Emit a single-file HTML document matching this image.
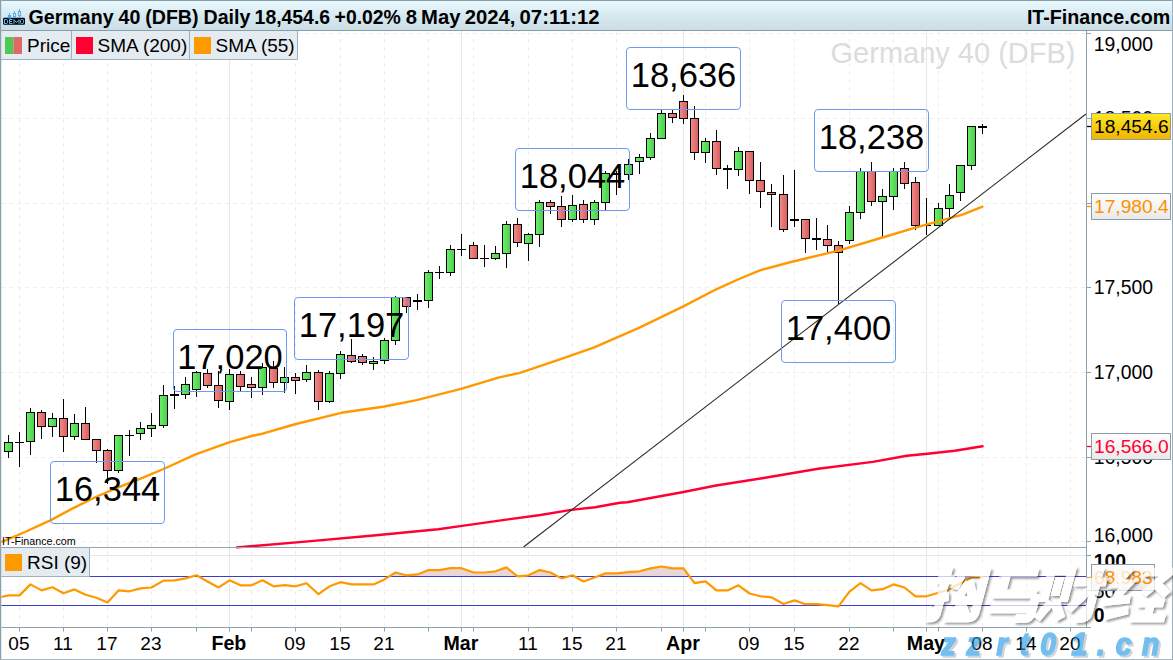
<!DOCTYPE html><html><head><meta charset="utf-8"><title>Germany 40 (DFB)</title>
<style>html,body{margin:0;padding:0;background:#fff}body{width:1173px;height:660px;overflow:hidden;font-family:"Liberation Sans",sans-serif}svg{display:block}text{font-family:"Liberation Sans",sans-serif}</style></head><body>
<svg width="1173" height="660" viewBox="0 0 1173 660">
<defs>
<linearGradient id="hd" x1="0" y1="0" x2="0" y2="1"><stop offset="0" stop-color="#e9fbff"/><stop offset="0.5" stop-color="#d8eaf1"/><stop offset="1" stop-color="#cbdde5"/></linearGradient>
<linearGradient id="gg" x1="0" y1="0" x2="1" y2="0"><stop offset="0" stop-color="#6cf26c"/><stop offset="1" stop-color="#4ccc4c"/></linearGradient>
<linearGradient id="rg" x1="0" y1="0" x2="1" y2="0"><stop offset="0" stop-color="#f28c8c"/><stop offset="1" stop-color="#d95c5c"/></linearGradient>
<linearGradient id="yl" x1="0" y1="0" x2="0" y2="1"><stop offset="0" stop-color="#ffe822"/><stop offset="1" stop-color="#f0b400"/></linearGradient>
<linearGradient id="wl" x1="0" y1="0" x2="0" y2="1"><stop offset="0" stop-color="#ffffff"/><stop offset="1" stop-color="#e9e9e9"/></linearGradient>
<clipPath id="rsiclip"><rect x="0" y="548" width="1086" height="28.3"/></clipPath>
</defs>
<rect x="0" y="0" width="1173" height="660" fill="#ffffff"/>
<line x1="1" x2="1086" y1="33.5" y2="33.5" stroke="#eeeeee" stroke-dasharray="4 4"/>
<line x1="1" x2="1086" y1="118.5" y2="118.5" stroke="#eeeeee" stroke-dasharray="4 4"/>
<line x1="1" x2="1086" y1="203.5" y2="203.5" stroke="#eeeeee" stroke-dasharray="4 4"/>
<line x1="1" x2="1086" y1="287.5" y2="287.5" stroke="#eeeeee" stroke-dasharray="4 4"/>
<line x1="1" x2="1086" y1="372.5" y2="372.5" stroke="#eeeeee" stroke-dasharray="4 4"/>
<line x1="1" x2="1086" y1="457.5" y2="457.5" stroke="#eeeeee" stroke-dasharray="4 4"/>
<line x1="1" x2="1086" y1="541.5" y2="541.5" stroke="#eeeeee" stroke-dasharray="4 4"/>
<line x1="1" x2="1086" y1="555.5" y2="555.5" stroke="#e7e7e7"/>
<line x1="1" x2="1086" y1="590.5" y2="590.5" stroke="#eeeeee" stroke-dasharray="4 4"/>
<line x1="19.5" x2="19.5" y1="31" y2="628" stroke="#eeeeee" stroke-dasharray="4 4"/>
<line x1="63.5" x2="63.5" y1="31" y2="628" stroke="#eeeeee" stroke-dasharray="4 4"/>
<line x1="107.5" x2="107.5" y1="31" y2="628" stroke="#eeeeee" stroke-dasharray="4 4"/>
<line x1="151.5" x2="151.5" y1="31" y2="628" stroke="#eeeeee" stroke-dasharray="4 4"/>
<line x1="196.5" x2="196.5" y1="31" y2="628" stroke="#eeeeee" stroke-dasharray="4 4"/>
<line x1="251.5" x2="251.5" y1="31" y2="628" stroke="#eeeeee" stroke-dasharray="4 4"/>
<line x1="295.5" x2="295.5" y1="31" y2="628" stroke="#eeeeee" stroke-dasharray="4 4"/>
<line x1="340.5" x2="340.5" y1="31" y2="628" stroke="#eeeeee" stroke-dasharray="4 4"/>
<line x1="384.5" x2="384.5" y1="31" y2="628" stroke="#eeeeee" stroke-dasharray="4 4"/>
<line x1="428.5" x2="428.5" y1="31" y2="628" stroke="#eeeeee" stroke-dasharray="4 4"/>
<line x1="473.5" x2="473.5" y1="31" y2="628" stroke="#eeeeee" stroke-dasharray="4 4"/>
<line x1="528.5" x2="528.5" y1="31" y2="628" stroke="#eeeeee" stroke-dasharray="4 4"/>
<line x1="572.5" x2="572.5" y1="31" y2="628" stroke="#eeeeee" stroke-dasharray="4 4"/>
<line x1="616.5" x2="616.5" y1="31" y2="628" stroke="#eeeeee" stroke-dasharray="4 4"/>
<line x1="661.5" x2="661.5" y1="31" y2="628" stroke="#eeeeee" stroke-dasharray="4 4"/>
<line x1="705.5" x2="705.5" y1="31" y2="628" stroke="#eeeeee" stroke-dasharray="4 4"/>
<line x1="749.5" x2="749.5" y1="31" y2="628" stroke="#eeeeee" stroke-dasharray="4 4"/>
<line x1="794.5" x2="794.5" y1="31" y2="628" stroke="#eeeeee" stroke-dasharray="4 4"/>
<line x1="849.5" x2="849.5" y1="31" y2="628" stroke="#eeeeee" stroke-dasharray="4 4"/>
<line x1="893.5" x2="893.5" y1="31" y2="628" stroke="#eeeeee" stroke-dasharray="4 4"/>
<line x1="938.5" x2="938.5" y1="31" y2="628" stroke="#eeeeee" stroke-dasharray="4 4"/>
<line x1="982.5" x2="982.5" y1="31" y2="628" stroke="#eeeeee" stroke-dasharray="4 4"/>
<line x1="1026.5" x2="1026.5" y1="31" y2="628" stroke="#eeeeee" stroke-dasharray="4 4"/>
<line x1="1070.5" x2="1070.5" y1="31" y2="628" stroke="#eeeeee" stroke-dasharray="4 4"/>
<line x1="229.5" x2="229.5" y1="31" y2="628" stroke="#e7e7e7"/>
<line x1="461.5" x2="461.5" y1="31" y2="628" stroke="#e7e7e7"/>
<line x1="683.5" x2="683.5" y1="31" y2="628" stroke="#e7e7e7"/>
<line x1="926.5" x2="926.5" y1="31" y2="628" stroke="#e7e7e7"/>
<text x="1075.5" y="63" text-anchor="end" font-size="29" fill="#dcdcdc">Germany 40 (DFB)</text>
<line x1="8.5" x2="8.5" y1="435" y2="458" stroke="#000"/>
<rect x="4.5" y="442.5" width="8" height="9.0" fill="url(#gg)" stroke="#000"/>
<line x1="19.5" x2="19.5" y1="432" y2="467" stroke="#000"/>
<line x1="15.0" x2="24.0" y1="442.5" y2="442.5" stroke="#000"/>
<line x1="30.5" x2="30.5" y1="408" y2="455" stroke="#000"/>
<rect x="26.5" y="412.5" width="8" height="29.0" fill="url(#gg)" stroke="#000"/>
<line x1="41.5" x2="41.5" y1="410" y2="439" stroke="#000"/>
<rect x="37.5" y="412.5" width="8" height="14.0" fill="url(#rg)" stroke="#000"/>
<line x1="52.5" x2="52.5" y1="413" y2="437" stroke="#000"/>
<rect x="48.5" y="418.5" width="8" height="8.0" fill="url(#gg)" stroke="#000"/>
<line x1="63.5" x2="63.5" y1="399" y2="452" stroke="#000"/>
<rect x="59.5" y="418.5" width="8" height="18.0" fill="url(#rg)" stroke="#000"/>
<line x1="74.5" x2="74.5" y1="414" y2="440" stroke="#000"/>
<rect x="70.5" y="423.5" width="8" height="13.0" fill="url(#gg)" stroke="#000"/>
<line x1="85.5" x2="85.5" y1="407" y2="440" stroke="#000"/>
<rect x="81.5" y="423.5" width="8" height="16.0" fill="url(#rg)" stroke="#000"/>
<line x1="96.5" x2="96.5" y1="439" y2="463" stroke="#000"/>
<rect x="92.5" y="439.5" width="8" height="11.0" fill="url(#rg)" stroke="#000"/>
<line x1="107.5" x2="107.5" y1="449" y2="484" stroke="#000"/>
<rect x="103.5" y="450.5" width="8" height="20.0" fill="url(#rg)" stroke="#000"/>
<line x1="118.5" x2="118.5" y1="435" y2="473" stroke="#000"/>
<rect x="114.5" y="435.5" width="8" height="35.0" fill="url(#gg)" stroke="#000"/>
<line x1="129.5" x2="129.5" y1="430" y2="456" stroke="#000"/>
<line x1="125.0" x2="134.0" y1="435.5" y2="435.5" stroke="#000"/>
<line x1="140.5" x2="140.5" y1="422" y2="440" stroke="#000"/>
<rect x="136.5" y="428.5" width="8" height="5.0" fill="url(#gg)" stroke="#000"/>
<line x1="151.5" x2="151.5" y1="413" y2="437" stroke="#000"/>
<rect x="147.5" y="425.5" width="8" height="3.0" fill="url(#gg)" stroke="#000"/>
<line x1="163.5" x2="163.5" y1="385" y2="428" stroke="#000"/>
<rect x="159.5" y="395.5" width="8" height="30.0" fill="url(#gg)" stroke="#000"/>
<line x1="174.5" x2="174.5" y1="386" y2="409" stroke="#000"/>
<rect x="170.0" y="394" width="9" height="2" fill="#000"/>
<line x1="185.5" x2="185.5" y1="377" y2="399" stroke="#000"/>
<rect x="181.5" y="384.5" width="8" height="10.0" fill="url(#gg)" stroke="#000"/>
<line x1="196.5" x2="196.5" y1="371" y2="397" stroke="#000"/>
<rect x="192.5" y="372.5" width="8" height="17.0" fill="url(#gg)" stroke="#000"/>
<line x1="207.5" x2="207.5" y1="369" y2="388" stroke="#000"/>
<rect x="203.5" y="373.5" width="8" height="12.0" fill="url(#rg)" stroke="#000"/>
<line x1="218.5" x2="218.5" y1="371" y2="408" stroke="#000"/>
<rect x="214.5" y="385.5" width="8" height="15.0" fill="url(#rg)" stroke="#000"/>
<line x1="229.5" x2="229.5" y1="369" y2="410" stroke="#000"/>
<rect x="225.5" y="374.5" width="8" height="27.0" fill="url(#gg)" stroke="#000"/>
<line x1="240.5" x2="240.5" y1="371" y2="391" stroke="#000"/>
<rect x="236.5" y="374.5" width="8" height="12.0" fill="url(#rg)" stroke="#000"/>
<line x1="251.5" x2="251.5" y1="377" y2="398" stroke="#000"/>
<rect x="247.5" y="384.5" width="8" height="3.0" fill="url(#rg)" stroke="#000"/>
<line x1="262.5" x2="262.5" y1="363" y2="395" stroke="#000"/>
<rect x="258.5" y="367.5" width="8" height="20.0" fill="url(#gg)" stroke="#000"/>
<line x1="273.5" x2="273.5" y1="361" y2="388" stroke="#000"/>
<rect x="269.5" y="368.5" width="8" height="14.0" fill="url(#rg)" stroke="#000"/>
<line x1="284.5" x2="284.5" y1="367" y2="393" stroke="#000"/>
<rect x="280.5" y="377.5" width="8" height="5.0" fill="url(#gg)" stroke="#000"/>
<line x1="295.5" x2="295.5" y1="373" y2="394" stroke="#000"/>
<rect x="291.5" y="377.5" width="8" height="3.0" fill="url(#rg)" stroke="#000"/>
<line x1="306.5" x2="306.5" y1="365" y2="382" stroke="#000"/>
<rect x="302.5" y="372.5" width="8" height="7.0" fill="url(#gg)" stroke="#000"/>
<line x1="318.5" x2="318.5" y1="370" y2="410" stroke="#000"/>
<rect x="314.5" y="372.5" width="8" height="29.0" fill="url(#rg)" stroke="#000"/>
<line x1="329.5" x2="329.5" y1="371" y2="403" stroke="#000"/>
<rect x="325.5" y="373.5" width="8" height="28.0" fill="url(#gg)" stroke="#000"/>
<line x1="340.5" x2="340.5" y1="351" y2="379" stroke="#000"/>
<rect x="336.5" y="354.5" width="8" height="19.0" fill="url(#gg)" stroke="#000"/>
<line x1="351.5" x2="351.5" y1="339" y2="363" stroke="#000"/>
<rect x="347.5" y="355.5" width="8" height="6.0" fill="url(#rg)" stroke="#000"/>
<line x1="362.5" x2="362.5" y1="354" y2="365" stroke="#000"/>
<rect x="358.5" y="356.5" width="8" height="6.0" fill="url(#rg)" stroke="#000"/>
<line x1="373.5" x2="373.5" y1="357" y2="370" stroke="#000"/>
<rect x="369.5" y="361.5" width="8" height="2.0" fill="url(#gg)" stroke="#000"/>
<line x1="384.5" x2="384.5" y1="338" y2="364" stroke="#000"/>
<rect x="380.5" y="340.5" width="8" height="20.0" fill="url(#gg)" stroke="#000"/>
<line x1="395.5" x2="395.5" y1="296" y2="345" stroke="#000"/>
<rect x="391.5" y="297.5" width="8" height="43.0" fill="url(#gg)" stroke="#000"/>
<line x1="406.5" x2="406.5" y1="298" y2="313" stroke="#000"/>
<rect x="402.5" y="297.5" width="8" height="9.0" fill="url(#rg)" stroke="#000"/>
<line x1="417.5" x2="417.5" y1="294" y2="310" stroke="#000"/>
<rect x="413.0" y="300" width="9" height="2" fill="#000"/>
<line x1="428.5" x2="428.5" y1="270" y2="308" stroke="#000"/>
<rect x="424.5" y="272.5" width="8" height="28.0" fill="url(#gg)" stroke="#000"/>
<line x1="439.5" x2="439.5" y1="266" y2="279" stroke="#000"/>
<line x1="435.0" x2="444.0" y1="272.5" y2="272.5" stroke="#000"/>
<line x1="450.5" x2="450.5" y1="245" y2="276" stroke="#000"/>
<rect x="446.5" y="249.5" width="8" height="23.0" fill="url(#gg)" stroke="#000"/>
<line x1="461.5" x2="461.5" y1="234" y2="256" stroke="#000"/>
<line x1="457.0" x2="466.0" y1="249.5" y2="249.5" stroke="#000"/>
<line x1="473.5" x2="473.5" y1="242" y2="258" stroke="#000"/>
<rect x="469.5" y="245.5" width="8" height="13.0" fill="url(#rg)" stroke="#000"/>
<line x1="484.5" x2="484.5" y1="245" y2="267" stroke="#000"/>
<line x1="480.0" x2="489.0" y1="258.5" y2="258.5" stroke="#000"/>
<line x1="495.5" x2="495.5" y1="246" y2="260" stroke="#000"/>
<rect x="491.5" y="253.5" width="8" height="5.0" fill="url(#gg)" stroke="#000"/>
<line x1="506.5" x2="506.5" y1="221" y2="268" stroke="#000"/>
<rect x="502.5" y="224.5" width="8" height="29.0" fill="url(#gg)" stroke="#000"/>
<line x1="517.5" x2="517.5" y1="218" y2="247" stroke="#000"/>
<rect x="513.5" y="224.5" width="8" height="18.0" fill="url(#rg)" stroke="#000"/>
<line x1="528.5" x2="528.5" y1="233" y2="261" stroke="#000"/>
<rect x="524.5" y="234.5" width="8" height="9.0" fill="url(#gg)" stroke="#000"/>
<line x1="539.5" x2="539.5" y1="200" y2="247" stroke="#000"/>
<rect x="535.5" y="202.5" width="8" height="32.0" fill="url(#gg)" stroke="#000"/>
<line x1="550.5" x2="550.5" y1="200" y2="214" stroke="#000"/>
<rect x="546.5" y="202.5" width="8" height="4.0" fill="url(#rg)" stroke="#000"/>
<line x1="561.5" x2="561.5" y1="196" y2="227" stroke="#000"/>
<rect x="557.5" y="206.5" width="8" height="13.0" fill="url(#rg)" stroke="#000"/>
<line x1="572.5" x2="572.5" y1="195" y2="222" stroke="#000"/>
<rect x="568.5" y="205.5" width="8" height="14.0" fill="url(#gg)" stroke="#000"/>
<line x1="583.5" x2="583.5" y1="200" y2="223" stroke="#000"/>
<rect x="579.5" y="204.5" width="8" height="15.0" fill="url(#rg)" stroke="#000"/>
<line x1="594.5" x2="594.5" y1="200" y2="225" stroke="#000"/>
<rect x="590.5" y="202.5" width="8" height="17.0" fill="url(#gg)" stroke="#000"/>
<line x1="605.5" x2="605.5" y1="171" y2="210" stroke="#000"/>
<rect x="601.5" y="173.5" width="8" height="29.0" fill="url(#gg)" stroke="#000"/>
<line x1="616.5" x2="616.5" y1="171" y2="195" stroke="#000"/>
<rect x="612.5" y="173.5" width="8" height="1.0" fill="url(#rg)" stroke="#000"/>
<line x1="628.5" x2="628.5" y1="159" y2="180" stroke="#000"/>
<rect x="624.5" y="164.5" width="8" height="10.0" fill="url(#gg)" stroke="#000"/>
<line x1="639.5" x2="639.5" y1="154" y2="174" stroke="#000"/>
<rect x="635.5" y="157.5" width="8" height="4.0" fill="url(#gg)" stroke="#000"/>
<line x1="650.5" x2="650.5" y1="133" y2="160" stroke="#000"/>
<rect x="646.5" y="138.5" width="8" height="19.0" fill="url(#gg)" stroke="#000"/>
<line x1="661.5" x2="661.5" y1="110" y2="139" stroke="#000"/>
<rect x="657.5" y="113.5" width="8" height="25.0" fill="url(#gg)" stroke="#000"/>
<line x1="672.5" x2="672.5" y1="110" y2="123" stroke="#000"/>
<rect x="668.5" y="113.5" width="8" height="4.0" fill="url(#rg)" stroke="#000"/>
<line x1="683.5" x2="683.5" y1="95" y2="124" stroke="#000"/>
<rect x="679.5" y="101.5" width="8" height="17.0" fill="url(#rg)" stroke="#000"/>
<line x1="694.5" x2="694.5" y1="106" y2="160" stroke="#000"/>
<rect x="690.5" y="118.5" width="8" height="34.0" fill="url(#rg)" stroke="#000"/>
<line x1="705.5" x2="705.5" y1="138" y2="163" stroke="#000"/>
<rect x="701.5" y="141.5" width="8" height="11.0" fill="url(#gg)" stroke="#000"/>
<line x1="716.5" x2="716.5" y1="130" y2="175" stroke="#000"/>
<rect x="712.5" y="141.5" width="8" height="27.0" fill="url(#rg)" stroke="#000"/>
<line x1="727.5" x2="727.5" y1="165" y2="189" stroke="#000"/>
<rect x="723.0" y="168" width="9" height="2" fill="#000"/>
<line x1="738.5" x2="738.5" y1="147" y2="176" stroke="#000"/>
<rect x="734.5" y="151.5" width="8" height="18.0" fill="url(#gg)" stroke="#000"/>
<line x1="749.5" x2="749.5" y1="151" y2="194" stroke="#000"/>
<rect x="745.5" y="151.5" width="8" height="29.0" fill="url(#rg)" stroke="#000"/>
<line x1="760.5" x2="760.5" y1="162" y2="208" stroke="#000"/>
<rect x="756.5" y="180.5" width="8" height="11.0" fill="url(#rg)" stroke="#000"/>
<line x1="771.5" x2="771.5" y1="184" y2="227" stroke="#000"/>
<rect x="767.5" y="192.5" width="8" height="2.0" fill="url(#rg)" stroke="#000"/>
<line x1="783.5" x2="783.5" y1="175" y2="232" stroke="#000"/>
<rect x="779.5" y="194.5" width="8" height="35.0" fill="url(#rg)" stroke="#000"/>
<line x1="794.5" x2="794.5" y1="170" y2="227" stroke="#000"/>
<rect x="790.0" y="219" width="9" height="2" fill="#000"/>
<line x1="805.5" x2="805.5" y1="219" y2="253" stroke="#000"/>
<rect x="801.5" y="219.5" width="8" height="19.0" fill="url(#rg)" stroke="#000"/>
<line x1="816.5" x2="816.5" y1="218" y2="250" stroke="#000"/>
<rect x="812.0" y="238" width="9" height="2" fill="#000"/>
<line x1="827.5" x2="827.5" y1="225" y2="252" stroke="#000"/>
<rect x="823.5" y="239.5" width="8" height="6.0" fill="url(#rg)" stroke="#000"/>
<line x1="838.5" x2="838.5" y1="241" y2="304" stroke="#000"/>
<rect x="834.5" y="245.5" width="8" height="7.0" fill="url(#rg)" stroke="#000"/>
<line x1="849.5" x2="849.5" y1="206" y2="244" stroke="#000"/>
<rect x="845.5" y="212.5" width="8" height="28.0" fill="url(#gg)" stroke="#000"/>
<line x1="860.5" x2="860.5" y1="168" y2="219" stroke="#000"/>
<rect x="856.5" y="171.5" width="8" height="41.0" fill="url(#gg)" stroke="#000"/>
<line x1="871.5" x2="871.5" y1="162" y2="206" stroke="#000"/>
<rect x="867.5" y="171.5" width="8" height="30.0" fill="url(#rg)" stroke="#000"/>
<line x1="882.5" x2="882.5" y1="189" y2="238" stroke="#000"/>
<rect x="878.5" y="196.5" width="8" height="5.0" fill="url(#gg)" stroke="#000"/>
<line x1="893.5" x2="893.5" y1="168" y2="210" stroke="#000"/>
<rect x="889.5" y="171.5" width="8" height="25.0" fill="url(#gg)" stroke="#000"/>
<line x1="904.5" x2="904.5" y1="162" y2="189" stroke="#000"/>
<rect x="900.5" y="168.5" width="8" height="15.0" fill="url(#rg)" stroke="#000"/>
<line x1="915.5" x2="915.5" y1="177" y2="230" stroke="#000"/>
<rect x="911.5" y="182.5" width="8" height="43.0" fill="url(#rg)" stroke="#000"/>
<line x1="926.5" x2="926.5" y1="198" y2="235" stroke="#000"/>
<line x1="922.0" x2="931.0" y1="225.5" y2="225.5" stroke="#000"/>
<line x1="938.5" x2="938.5" y1="203" y2="225" stroke="#000"/>
<rect x="934.5" y="208.5" width="8" height="17.0" fill="url(#gg)" stroke="#000"/>
<line x1="949.5" x2="949.5" y1="184" y2="218" stroke="#000"/>
<rect x="945.5" y="195.5" width="8" height="13.0" fill="url(#gg)" stroke="#000"/>
<line x1="960.5" x2="960.5" y1="165" y2="201" stroke="#000"/>
<rect x="956.5" y="165.5" width="8" height="27.0" fill="url(#gg)" stroke="#000"/>
<line x1="971.5" x2="971.5" y1="126" y2="170" stroke="#000"/>
<rect x="967.5" y="126.5" width="8" height="39.0" fill="url(#gg)" stroke="#000"/>
<line x1="982.5" x2="982.5" y1="124" y2="134" stroke="#000"/>
<rect x="978.0" y="126" width="9" height="2" fill="#000"/>
<polyline fill="none" stroke="#ff0033" stroke-width="2.4" stroke-linejoin="round" stroke-linecap="round" points="237.0,547.4 305.3,541.6 373.5,535.5 438.2,529.3 462.1,525.9 509.9,519.1 540.5,515.0 571.2,509.9 595.1,507.2 620.0,502.7 627.3,502.2 683.5,492.0 716.0,485.5 763.7,478.0 818.2,468.8 872.8,461.9 906.9,455.8 927.4,453.8 954.7,450.7 982.5,446.3"/>
<polyline fill="none" stroke="#ff9900" stroke-width="2.4" stroke-linejoin="round" stroke-linecap="round" points="1.0,541.8 3.6,541.2 25.0,532.0 50.3,520.4 71.8,508.9 95.7,497.0 119.6,486.9 143.6,477.3 164.6,468.5 196.2,454.1 229.7,442.2 253.6,435.5 260.0,434.3 295.9,424.0 341.4,412.8 384.4,406.5 416.7,400.1 461.0,388.8 499.3,377.3 520.0,372.9 560.7,359.2 594.2,347.3 638.4,328.1 683.9,306.1 716.2,289.3 737.8,279.5 760.5,270.2 791.0,262.0 838.5,250.6 882.5,237.5 915.4,227.6 950.0,218.2 962.5,214.6 982.5,206.7"/>
<line x1="523.5" y1="547" x2="1086" y2="114" stroke="#2a2a2a" stroke-width="1.1"/>
<rect x="50.5" y="461.5" width="114.0" height="62.0" rx="3.5" fill="none" stroke="#6b9af0"/>
<text x="107.5" y="500.9" text-anchor="middle" font-size="34.5" fill="#000">16,344</text>
<rect x="173.5" y="329.5" width="113.0" height="62.0" rx="3.5" fill="none" stroke="#6b9af0"/>
<text x="230.0" y="368.9" text-anchor="middle" font-size="34.5" fill="#000">17,020</text>
<rect x="294.5" y="297.5" width="114.0" height="62.0" rx="3.5" fill="none" stroke="#6b9af0"/>
<text x="351.5" y="336.9" text-anchor="middle" font-size="34.5" fill="#000">17,197</text>
<rect x="515.5" y="148.5" width="114.0" height="62.0" rx="3.5" fill="none" stroke="#6b9af0"/>
<text x="572.5" y="187.9" text-anchor="middle" font-size="34.5" fill="#000">18,044</text>
<rect x="626.5" y="47.5" width="114.0" height="62.0" rx="3.5" fill="none" stroke="#6b9af0"/>
<text x="683.5" y="86.9" text-anchor="middle" font-size="34.5" fill="#000">18,636</text>
<rect x="814.5" y="109.5" width="114.0" height="62.0" rx="3.5" fill="none" stroke="#6b9af0"/>
<text x="871.5" y="148.9" text-anchor="middle" font-size="34.5" fill="#000">18,238</text>
<rect x="781.5" y="300.5" width="114.0" height="62.0" rx="3.5" fill="none" stroke="#6b9af0"/>
<text x="838.5" y="339.9" text-anchor="middle" font-size="34.5" fill="#000">17,400</text>
<text x="2" y="545" font-size="10.7" fill="#000">IT-Finance.com</text>
<line x1="0" x2="1086" y1="547.5" y2="547.5" stroke="#93a5b0"/>
<path d="M0,576.3 L0.0,597.3 L8.5,595.4 L19.5,595.4 L30.5,584.4 L41.5,590.4 L52.5,587.3 L63.5,593.2 L74.5,589.4 L85.5,594.7 L96.5,597.8 L107.5,602.5 L118.5,590.4 L129.5,591.3 L140.5,588.4 L151.5,587.5 L163.5,580.6 L174.5,580.3 L185.5,578.4 L196.5,575.3 L207.5,581.5 L218.5,587.5 L229.5,580.3 L240.5,585.3 L251.5,585.3 L262.5,580.3 L273.5,586.3 L284.5,585.1 L295.5,586.3 L306.5,583.2 L318.5,594.2 L329.5,586.3 L340.5,582.2 L351.5,584.4 L362.5,584.4 L373.5,584.4 L384.5,579.4 L395.5,572.5 L406.5,575.3 L417.5,574.4 L428.5,570.1 L439.5,570.1 L450.5,568.2 L461.5,568.2 L473.5,572.5 L484.5,572.5 L495.5,571.3 L506.5,567.4 L517.5,576.3 L528.5,575.3 L539.5,570.1 L550.5,572.5 L561.5,578.4 L572.5,575.3 L583.5,581.5 L594.5,577.5 L605.5,573.4 L616.5,573.4 L628.5,572.2 L639.5,571.3 L650.5,568.4 L661.5,566.5 L672.5,568.4 L683.5,568.4 L694.5,583.2 L705.5,581.3 L716.5,590.4 L727.5,590.4 L738.5,585.3 L749.5,593.5 L760.5,596.3 L771.5,597.3 L783.5,604.0 L794.5,600.4 L805.5,604.2 L816.5,604.2 L827.5,605.2 L838.5,606.4 L849.5,591.6 L860.5,583.2 L871.5,590.4 L882.5,589.2 L893.5,584.4 L904.5,587.5 L915.5,596.3 L926.5,596.3 L938.5,592.7 L949.5,589.2 L960.5,583.2 L971.5,577.5 L982.5,577.2 L982.5,576.3 Z" fill="#e9d6d6" clip-path="url(#rsiclip)"/>
<line x1="1" x2="1086" y1="576.5" y2="576.5" stroke="#3c3ccf" stroke-width="1.2"/>
<line x1="1" x2="1086" y1="605.5" y2="605.5" stroke="#3c3ccf" stroke-width="1.2"/>
<polyline fill="none" stroke="#ff9900" stroke-width="2.2" stroke-linejoin="round" stroke-linecap="round" points="0.0,597.3 8.5,595.4 19.5,595.4 30.5,584.4 41.5,590.4 52.5,587.3 63.5,593.2 74.5,589.4 85.5,594.7 96.5,597.8 107.5,602.5 118.5,590.4 129.5,591.3 140.5,588.4 151.5,587.5 163.5,580.6 174.5,580.3 185.5,578.4 196.5,575.3 207.5,581.5 218.5,587.5 229.5,580.3 240.5,585.3 251.5,585.3 262.5,580.3 273.5,586.3 284.5,585.1 295.5,586.3 306.5,583.2 318.5,594.2 329.5,586.3 340.5,582.2 351.5,584.4 362.5,584.4 373.5,584.4 384.5,579.4 395.5,572.5 406.5,575.3 417.5,574.4 428.5,570.1 439.5,570.1 450.5,568.2 461.5,568.2 473.5,572.5 484.5,572.5 495.5,571.3 506.5,567.4 517.5,576.3 528.5,575.3 539.5,570.1 550.5,572.5 561.5,578.4 572.5,575.3 583.5,581.5 594.5,577.5 605.5,573.4 616.5,573.4 628.5,572.2 639.5,571.3 650.5,568.4 661.5,566.5 672.5,568.4 683.5,568.4 694.5,583.2 705.5,581.3 716.5,590.4 727.5,590.4 738.5,585.3 749.5,593.5 760.5,596.3 771.5,597.3 783.5,604.0 794.5,600.4 805.5,604.2 816.5,604.2 827.5,605.2 838.5,606.4 849.5,591.6 860.5,583.2 871.5,590.4 882.5,589.2 893.5,584.4 904.5,587.5 915.5,596.3 926.5,596.3 938.5,592.7 949.5,589.2 960.5,583.2 971.5,577.5 982.5,577.2"/>
<rect x="1" y="548" width="88.5" height="28.5" fill="#e4ebf1"/>
<path d="M89.5,548 V576.5 H1" fill="none" stroke="#9fb0ba"/>
<rect x="5" y="554" width="17" height="17" fill="#ff9900"/>
<text x="27" y="569.3" font-size="19" fill="#000">RSI (9)</text>
<rect x="1087" y="31" width="86" height="629" fill="#fff"/>
<line x1="1086.5" x2="1086.5" y1="31" y2="628" stroke="#8fa1ad"/>
<line x1="0" x2="1091" y1="627.5" y2="627.5" stroke="#8fa1ad"/>
<line x1="1087" x2="1091" y1="33.5" y2="33.5" stroke="#8fa1ad"/>
<line x1="1087" x2="1091" y1="118.5" y2="118.5" stroke="#8fa1ad"/>
<line x1="1087" x2="1091" y1="203.5" y2="203.5" stroke="#8fa1ad"/>
<line x1="1087" x2="1091" y1="287.5" y2="287.5" stroke="#8fa1ad"/>
<line x1="1087" x2="1091" y1="372.5" y2="372.5" stroke="#8fa1ad"/>
<line x1="1087" x2="1091" y1="457.5" y2="457.5" stroke="#8fa1ad"/>
<line x1="1087" x2="1091" y1="541.5" y2="541.5" stroke="#8fa1ad"/>
<line x1="1087" x2="1091" y1="555.5" y2="555.5" stroke="#8fa1ad"/>
<line x1="1087" x2="1091" y1="590.5" y2="590.5" stroke="#8fa1ad"/>
<text x="1093.8" y="50.6" font-size="19.4" fill="#000">19,000</text>
<text x="1093.8" y="125.4" font-size="19.4" fill="#000">18,500</text>
<text x="1093.8" y="294.4" font-size="19.4" fill="#000">17,500</text>
<text x="1093.8" y="379.4" font-size="19.4" fill="#000">17,000</text>
<text x="1093.8" y="464.4" font-size="19.4" fill="#000">16,500</text>
<text x="1093.8" y="542" font-size="19.4" fill="#000">16,000</text>
<text x="1093.8" y="567.7" font-size="19.4" font-weight="bold" fill="#000">100</text>
<text x="1093.8" y="597.9" font-size="19.4" fill="#000">50</text>
<text x="1093.8" y="621.5" font-size="19.4" font-weight="bold" fill="#000">0</text>
<line x1="1087" x2="1092" y1="126.5" y2="126.5" stroke="#000" stroke-width="1.3"/>
<rect x="1091.5" y="113.5" width="79.0" height="26.0" fill="url(#yl)" stroke="#8c9ca7"/>
<text x="1094" y="133.4" font-size="19.2" fill="#000">18,454.6</text>
<line x1="1087" x2="1092" y1="206.5" y2="206.5" stroke="#ff9000" stroke-width="1.3"/>
<rect x="1091.5" y="193.5" width="79.0" height="26.0" fill="url(#wl)" stroke="#8c9ca7"/>
<text x="1094" y="213.4" font-size="19.2" fill="#ff9000">17,980.4</text>
<line x1="1087" x2="1092" y1="446.5" y2="446.5" stroke="#ff0033" stroke-width="1.3"/>
<rect x="1091.5" y="433.5" width="79.0" height="26.0" fill="url(#wl)" stroke="#8c9ca7"/>
<text x="1094" y="453.4" font-size="19.2" fill="#ff0033">16,566.0</text>
<line x1="1087" x2="1092" y1="577.5" y2="577.5" stroke="#ff9000" stroke-width="1.3"/>
<rect x="1091.5" y="564.5" width="63.0" height="26.0" fill="url(#wl)" stroke="#8c9ca7"/>
<text x="1094" y="584.4" font-size="19.2" fill="#ff9000">68.983</text>
<line x1="19.5" x2="19.5" y1="628" y2="631.5" stroke="#8fa1ad"/>
<line x1="63.5" x2="63.5" y1="628" y2="631.5" stroke="#8fa1ad"/>
<line x1="107.5" x2="107.5" y1="628" y2="631.5" stroke="#8fa1ad"/>
<line x1="151.5" x2="151.5" y1="628" y2="631.5" stroke="#8fa1ad"/>
<line x1="196.5" x2="196.5" y1="628" y2="631.5" stroke="#8fa1ad"/>
<line x1="251.5" x2="251.5" y1="628" y2="631.5" stroke="#8fa1ad"/>
<line x1="295.5" x2="295.5" y1="628" y2="631.5" stroke="#8fa1ad"/>
<line x1="340.5" x2="340.5" y1="628" y2="631.5" stroke="#8fa1ad"/>
<line x1="384.5" x2="384.5" y1="628" y2="631.5" stroke="#8fa1ad"/>
<line x1="428.5" x2="428.5" y1="628" y2="631.5" stroke="#8fa1ad"/>
<line x1="473.5" x2="473.5" y1="628" y2="631.5" stroke="#8fa1ad"/>
<line x1="528.5" x2="528.5" y1="628" y2="631.5" stroke="#8fa1ad"/>
<line x1="572.5" x2="572.5" y1="628" y2="631.5" stroke="#8fa1ad"/>
<line x1="616.5" x2="616.5" y1="628" y2="631.5" stroke="#8fa1ad"/>
<line x1="661.5" x2="661.5" y1="628" y2="631.5" stroke="#8fa1ad"/>
<line x1="705.5" x2="705.5" y1="628" y2="631.5" stroke="#8fa1ad"/>
<line x1="749.5" x2="749.5" y1="628" y2="631.5" stroke="#8fa1ad"/>
<line x1="794.5" x2="794.5" y1="628" y2="631.5" stroke="#8fa1ad"/>
<line x1="849.5" x2="849.5" y1="628" y2="631.5" stroke="#8fa1ad"/>
<line x1="893.5" x2="893.5" y1="628" y2="631.5" stroke="#8fa1ad"/>
<line x1="938.5" x2="938.5" y1="628" y2="631.5" stroke="#8fa1ad"/>
<line x1="982.5" x2="982.5" y1="628" y2="631.5" stroke="#8fa1ad"/>
<line x1="1026.5" x2="1026.5" y1="628" y2="631.5" stroke="#8fa1ad"/>
<line x1="1070.5" x2="1070.5" y1="628" y2="631.5" stroke="#8fa1ad"/>
<line x1="229.5" x2="229.5" y1="628" y2="631.5" stroke="#8fa1ad"/>
<line x1="461.5" x2="461.5" y1="628" y2="631.5" stroke="#8fa1ad"/>
<line x1="683.5" x2="683.5" y1="628" y2="631.5" stroke="#8fa1ad"/>
<line x1="926.5" x2="926.5" y1="628" y2="631.5" stroke="#8fa1ad"/>
<text x="18.9" y="650.4" text-anchor="middle" font-size="19" fill="#000">05</text>
<text x="62.9" y="650.4" text-anchor="middle" font-size="19" fill="#000">11</text>
<text x="106.9" y="650.4" text-anchor="middle" font-size="19" fill="#000">17</text>
<text x="150.9" y="650.4" text-anchor="middle" font-size="19" fill="#000">23</text>
<text x="294.9" y="650.4" text-anchor="middle" font-size="19" fill="#000">09</text>
<text x="339.9" y="650.4" text-anchor="middle" font-size="19" fill="#000">15</text>
<text x="383.9" y="650.4" text-anchor="middle" font-size="19" fill="#000">21</text>
<text x="527.9" y="650.4" text-anchor="middle" font-size="19" fill="#000">11</text>
<text x="571.9" y="650.4" text-anchor="middle" font-size="19" fill="#000">15</text>
<text x="615.9" y="650.4" text-anchor="middle" font-size="19" fill="#000">21</text>
<text x="748.9" y="650.4" text-anchor="middle" font-size="19" fill="#000">09</text>
<text x="793.9" y="650.4" text-anchor="middle" font-size="19" fill="#000">15</text>
<text x="848.9" y="650.4" text-anchor="middle" font-size="19" fill="#000">22</text>
<text x="981.9" y="650.4" text-anchor="middle" font-size="19" fill="#000">08</text>
<text x="1025.9" y="650.4" text-anchor="middle" font-size="19" fill="#000">14</text>
<text x="1069.9" y="650.4" text-anchor="middle" font-size="19" fill="#000">20</text>
<text x="228.9" y="650.4" text-anchor="middle" font-size="19.6" font-weight="bold" fill="#000">Feb</text>
<text x="460.9" y="650.4" text-anchor="middle" font-size="19.6" font-weight="bold" fill="#000">Mar</text>
<text x="682.9" y="650.4" text-anchor="middle" font-size="19.6" font-weight="bold" fill="#000">Apr</text>
<text x="925.9" y="650.4" text-anchor="middle" font-size="19.6" font-weight="bold" fill="#000">May</text>
<rect x="0" y="0" width="1173" height="30" fill="url(#hd)"/>
<line x1="0" x2="1173" y1="30.5" y2="30.5" stroke="#8a9ca6"/>
<line x1="0" x2="1173" y1="0.5" y2="0.5" stroke="#8a9ca6"/>
<g font-weight="bold" fill="#000"><text x="28.6" y="24.1" font-size="19.6" word-spacing="-0.5">Germany 40 (DFB) Daily</text><text x="254.6" y="24.1" font-size="19.4" word-spacing="-0.9">18,454.6 +0.02%</text><text x="405.7" y="24.1" font-size="20.3" word-spacing="-1.5">8 May 2024, 07:11:12</text></g>
<text x="1170.2" y="24.1" text-anchor="end" font-size="19.7" font-weight="bold" fill="#000">IT-Finance.com</text>
<g><rect x="3.1" y="17.8" width="21.9" height="7" rx="1.2" fill="#000"/><g fill="none" stroke="#62bdfa" stroke-width="1" stroke-linejoin="round"><path d="M4.5,19.5 V23.5 H6.5 Q7.5,23.5 7.5,22.5 V20.5 Q7.5,19.5 6.5,19.5 Z"/><path d="M12.5,19.5 H9.5 V23.5 H12.5 M9.5,21.5 H12"/><path d="M14,23.9 V19.6 L16.5,22.5 L19,19.6 V23.9"/><rect x="20.5" y="19.5" width="3" height="4" rx="0.9"/></g><g stroke="#4aa9ee" fill="#d6ecfa" stroke-width="0.9"><line x1="9.45" x2="9.45" y1="13" y2="18"/><rect x="8.3" y="15.4" width="2.3" height="2.6" fill="#4aa9ee"/><line x1="14.5" x2="14.5" y1="11.1" y2="18"/><rect x="13.4" y="13.5" width="2.2" height="3.1"/><line x1="19.5" x2="19.5" y1="8.9" y2="18"/><rect x="18.4" y="11.5" width="2.2" height="4.3"/></g></g>
<rect x="1" y="31" width="296" height="28.5" fill="#e4ebf1"/>
<path d="M1,59.5 H297.5 V31 M71.5,31 V59.5 M189.5,31 V59.5" fill="none" stroke="#9fb0ba"/>
<rect x="5" y="37" width="8.5" height="17" fill="#4fc94f"/><rect x="13.5" y="37" width="8.5" height="17" fill="#e06868"/>
<text x="27" y="52.4" font-size="19" fill="#000">Price</text>
<rect x="76" y="37" width="17" height="17" fill="#ff0033"/>
<text x="97.5" y="52.4" font-size="19" fill="#000">SMA (200)</text>
<rect x="194" y="37" width="17" height="17" fill="#ff9900"/>
<text x="215.5" y="52.4" font-size="19" fill="#000">SMA (55)</text>
<rect x="0" y="0" width="1" height="660" fill="#8d9fa9"/><rect x="1" y="0" width="0.5" height="660" fill="#c5cfd5"/>
<line x1="0" x2="1173" y1="659.5" y2="659.5" stroke="#a9b7c0"/>
<line x1="1172.5" x2="1172.5" y1="0" y2="660" stroke="#9fafb8"/>
<defs><filter id="ws" x="-20%" y="-20%" width="140%" height="140%"><feGaussianBlur in="SourceAlpha" stdDeviation="1.25" result="b"/><feOffset in="b" dx="2.2" dy="2.1" result="ob"/><feFlood flood-color="#222" flood-opacity="0.62"/><feComposite in2="ob" operator="in" result="sh"/><feComposite in="sh" in2="SourceAlpha" operator="out" result="sho"/><feMerge><feMergeNode in="sho"/><feMergeNode in="SourceGraphic"/></feMerge></filter><filter id="bs" x="-20%" y="-20%" width="140%" height="140%"><feGaussianBlur in="SourceAlpha" stdDeviation="0.6" result="b"/><feOffset in="b" dx="1.6" dy="1.6" result="ob"/><feFlood flood-color="#333" flood-opacity="0.35"/><feComposite in2="ob" operator="in" result="sh"/><feMerge><feMergeNode in="sh"/><feMergeNode in="SourceGraphic"/></feMerge></filter></defs>
<g filter="url(#ws)" opacity="0.74">
<path transform="translate(940,566) skewX(-15)" d="M1,14 H18 M9.3,1 V49 Q9.3,52 5,52 H0 M0,35 L17,30.5 M26,1 L20.5,23 M24,6.3 H47.6 V47.5 Q47.6,52 43,52 H18 M33.5,16 L27,31 M33.5,16 L41,31 M21,34.5 H43 M31.5,38 L25,50 M31.5,38 L39,50" fill="none" stroke="#fff" stroke-width="8.6" stroke-linejoin="miter" stroke-linecap="butt"/>
<path transform="translate(999,566) skewX(-15)" d="M3,6.5 H41 M10,10 V25 M1,28 H45 M45,28 V48 Q45,52.5 41,52.5 H30 M2,43 H42" fill="none" stroke="#fff" stroke-width="8.6" stroke-linejoin="miter" stroke-linecap="butt"/>
<path transform="translate(1049,566) skewX(-15)" d="M4,5 H24 V36 M4,5 V36 M14,11 V30 M12,36 L2,53 M16,36 L26,53 M30,16 H62 M52,2 V48 Q52,52.5 46,52.5 H41 M50,20 L31,44" fill="none" stroke="#fff" stroke-width="8.6" stroke-linejoin="miter" stroke-linecap="butt"/>
<path transform="translate(1116,566) skewX(-15)" d="M15,2 L5,18 L17,18 L5,35 L23,33 M2,50 L24,44 M30,6 H56 L35,28 M44,17 L59,29 M32,37 H58 M45,37 V52 M28,52 H63" fill="none" stroke="#fff" stroke-width="8.6" stroke-linejoin="miter" stroke-linecap="butt"/>
</g>
<g filter="url(#bs)" opacity="0.62" fill="#1c98e6" stroke="#1c98e6" stroke-width="1.7" font-size="31.5" font-weight="bold" font-style="italic" text-anchor="middle">
<text transform="translate(948.6,654.5) scale(0.9,1)" x="0" y="0">z</text>
<text transform="translate(973.5,654.5) scale(0.9,1)" x="0" y="0">z</text>
<text transform="translate(1002,654.5) scale(0.9,1)" x="0" y="0">r</text>
<text transform="translate(1024.5,654.5) scale(0.9,1)" x="0" y="0">t</text>
<text transform="translate(1048.1,654.5) scale(0.9,1)" x="0" y="0">0</text>
<text transform="translate(1079.5,654.5) scale(0.9,1)" x="0" y="0">1</text>
<text transform="translate(1100.9,654.5) scale(0.9,1)" x="0" y="0">.</text>
<text transform="translate(1123.7,654.5) scale(0.9,1)" x="0" y="0">c</text>
<text transform="translate(1150.6,654.5) scale(0.9,1)" x="0" y="0">n</text>
</g>
</svg></body></html>
